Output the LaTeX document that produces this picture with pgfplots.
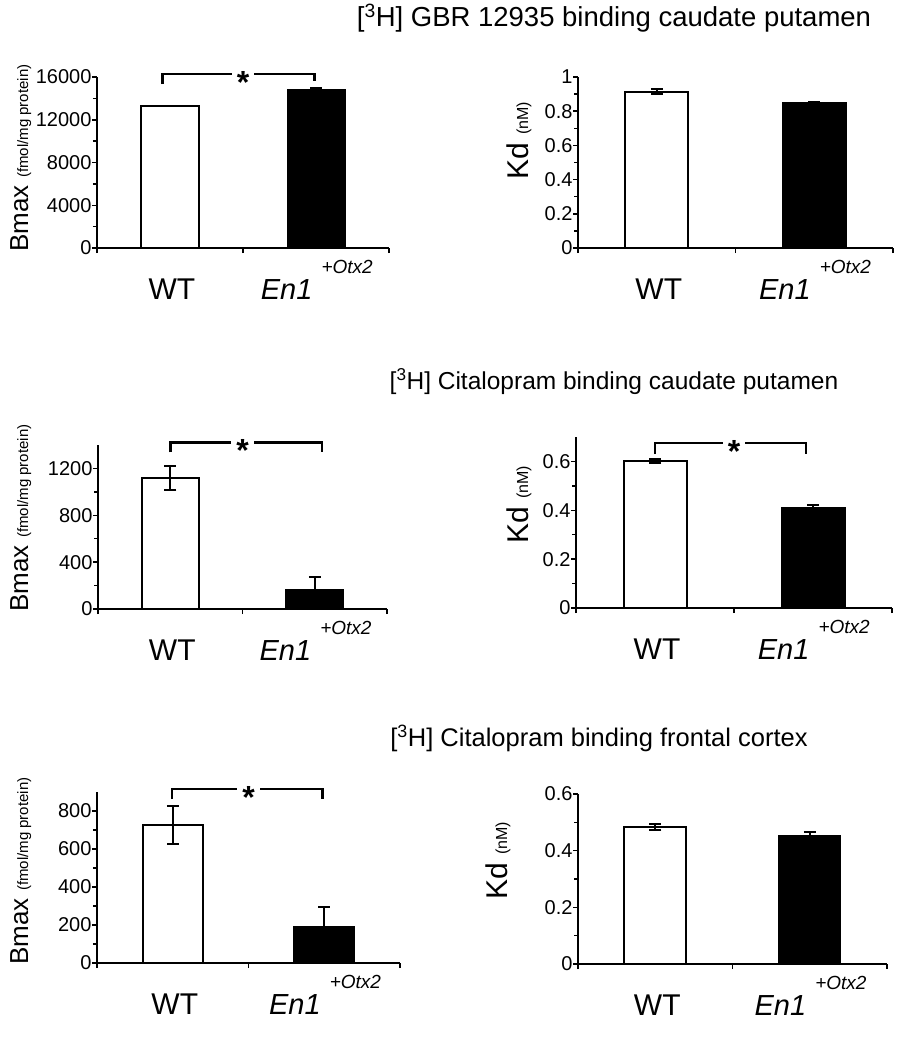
\documentclass[border=0pt]{standalone}
\usepackage{pgfplots}
\pgfplotsset{compat=1.18}
\usepackage{fontspec}
\setmainfont{Liberation Sans}

\newcommand{\fs}[1]{\fontsize{#1}{#1}\selectfont}

\pgfplotsset{
  binding/.style={
    scale only axis, anchor=south west,
    axis lines=left, axis line style={-, line width=2pt},
    xmin=0, xmax=2, ymin=0,
    xtick={0,1,2}, xticklabels={},
    tick align=outside, major tick length=5pt, minor tick length=4pt,
    tick style={black, line width=1.5pt},
    minor y tick num=1,
    y tick label style={font=\fs{20}, xshift=3pt,
      /pgf/number format/.cd, fixed, 1000 sep={}, assume math mode=true},
    scaled y ticks=false,
    clip=false,
  },
  wt/.style={ybar, bar shift=0pt, draw=black, fill=white, line width=2pt,
    error bars/y dir=both, error bars/y explicit,
    error bars/error bar style={line width=2pt, black},
    error bars/error mark options={rotate=90, line width=2pt, mark size=6pt, black}},
  en/.style={wt, fill=black},
}

% category labels under the bars
\newcommand{\cats}{%
  \node[anchor=base, font=\fs{30}] at (axis cs:0.5,0) [yshift=-51pt, xshift=2pt] {WT};
  \node[anchor=base east, font=\fs{29}\itshape] at (axis cs:1.5,0) [yshift=-51pt] {En1};
  \node[anchor=base west, font=\fs{19}\itshape] at (axis cs:1.5,0) [yshift=-25pt, xshift=2pt] {+Otx2};
}
% significance bracket: x1, x2, ytop, yleft, yright
\newcommand{\sig}[5]{%
  \draw[line width=2.6pt] (axis cs:#1,#4) -- (axis cs:#1,#3) -- (axis cs:#2,#3) -- (axis cs:#2,#5);
  \node[anchor=base, font=\fs{32}\bfseries, fill=white, inner xsep=5pt, inner ysep=0pt] at (axis cs:1,#3) [yshift=-19pt] {*};
}

\begin{document}
\begin{tikzpicture}
\useasboundingbox (0,0) rectangle (906pt,-1050pt);

% titles
\node[font=\fs{27.5}] at (614pt,-18pt) {[\textsuperscript{3}H] GBR 12935 binding caudate putamen};
\node[font=\fs{24.5}] at (614pt,-382pt) {[\textsuperscript{3}H] Citalopram binding caudate putamen};
\node[font=\fs{25.5}] at (599pt,-738pt) {[\textsuperscript{3}H] Citalopram binding frontal cortex};

% y labels
\node[rotate=90, anchor=base] at (28pt,-158pt) {\fs{26}Bmax \fs{15}(fmol/mg protein)};
\node[rotate=90, anchor=base] at (28pt,-518pt) {\fs{26}Bmax \fs{15}(fmol/mg protein)};
\node[rotate=90, anchor=base] at (28pt,-871pt) {\fs{26}Bmax \fs{15}(fmol/mg protein)};
\node[rotate=90, anchor=base] at (528pt,-141pt) {\fs{30}Kd \fs{16}(nM)};
\node[rotate=90, anchor=base] at (528pt,-505pt) {\fs{30}Kd \fs{16}(nM)};
\node[rotate=90, anchor=base] at (507pt,-861pt) {\fs{30}Kd \fs{16}(nM)};

% row 1: GBR 12935, caudate putamen
\begin{axis}[binding, at={(97pt,-248pt)}, width=292pt, height=171pt,
  ymax=16000, ytick={0,4000,...,16000}]
\addplot[wt, bar width=58pt, error bars/y dir=none] coordinates {(0.5,13300)};
\addplot[en, bar width=57pt] coordinates {(1.5,14750) +- (0,250)};
\sig{0.45}{1.49}{16280}{15345}{15626}
\cats
\end{axis}

\begin{axis}[binding, at={(578pt,-248pt)}, width=315pt, height=171pt,
  ymax=1, ytick={0,0.2,...,1}]
\addplot[wt, bar width=63pt] coordinates {(0.5,0.915) +- (0,0.012)};
\addplot[en, bar width=63pt] coordinates {(1.5,0.846) +- (0,0.01)};
\cats
\end{axis}

% row 2: citalopram, caudate putamen
\begin{axis}[binding, at={(98pt,-609pt)}, width=289pt, height=164pt,
  ymax=1400, ytick={0,400,800,1200}]
\addplot[wt, bar width=57pt] coordinates {(0.5,1120) +- (0,100)};
\addplot[en, bar width=57pt] coordinates {(1.5,160) +- (0,110)};
\sig{0.5}{1.55}{1423}{1337}{1337}
\cats
\end{axis}

\begin{axis}[binding, at={(576pt,-608pt)}, width=316pt, height=171pt,
  ymax=0.7, ytick={0,0.2,0.4,0.6}]
\addplot[wt, bar width=63pt] coordinates {(0.5,0.603) +- (0,0.008)};
\addplot[en, bar width=63pt] coordinates {(1.5,0.41) +- (0,0.01)};
\sig{0.5}{1.456}{0.675}{0.63}{0.63}
\cats
\end{axis}

% row 3: citalopram, frontal cortex
\begin{axis}[binding, at={(97pt,-963pt)}, width=303pt, height=171pt,
  ymax=900, ytick={0,200,...,800}]
\addplot[wt, bar width=60pt] coordinates {(0.5,725) +- (0,100)};
\addplot[en, bar width=60pt] coordinates {(1.5,190) +- (0,105)};
\sig{0.495}{1.49}{915}{862}{862}
\cats
\end{axis}

\begin{axis}[binding, at={(578pt,-964pt)}, width=309pt, height=170pt,
  ymax=0.6, ytick={0,0.2,0.4,0.6}]
\addplot[wt, bar width=62pt] coordinates {(0.5,0.483) +- (0,0.01)};
\addplot[en, bar width=61pt] coordinates {(1.5,0.453) +- (0,0.014)};
\cats
\end{axis}
\end{tikzpicture}
\end{document}
